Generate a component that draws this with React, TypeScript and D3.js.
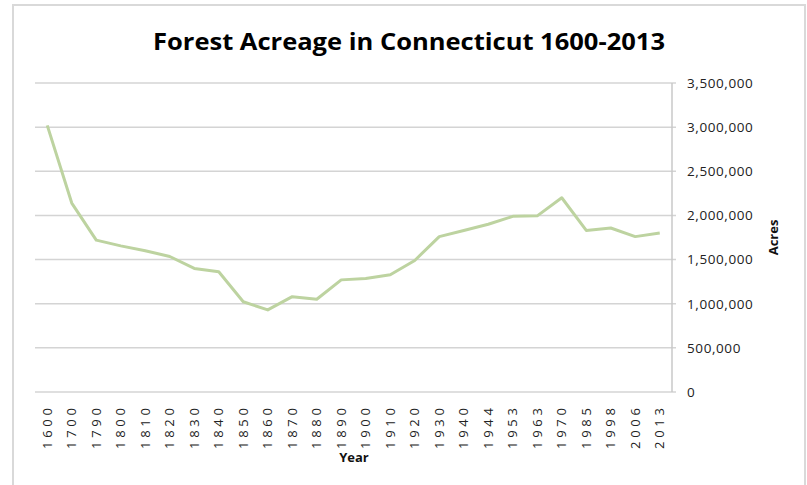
import React from "react";
import * as d3 from "d3";

const years = ["1600","1700","1790","1800","1810","1820","1830","1840","1850","1860","1870","1880","1890","1900","1910","1920","1930","1940","1944","1953","1963","1970","1985","1998","2006","2013"];
const acres = [3020000,2140000,1720000,1655000,1600000,1535000,1400000,1362000,1022000,930000,1080000,1050000,1270000,1285000,1328000,1490000,1760000,1830000,1900000,1990000,1995000,2200000,1830000,1858000,1760000,1800000];
const yTicks = [0,500000,1000000,1500000,2000000,2500000,3000000,3500000];
const title = "Forest Acreage in Connecticut 1600-2013";

export default function App() {
  const W = 807, H = 485;
  const left = 35, right = 672, top = 83, bottom = 392;
  const x = d3.scalePoint<string>().domain(years).range([left, right]).padding(0.5);
  const y = d3.scaleLinear().domain([0, 3500000]).range([bottom, top]);
  const line = d3.line<number>().x((_, i) => x(years[i]) as number).y(d => y(d));
  const fmt = d3.format(",");
  const font = "'Open Sans', 'DejaVu Sans', sans-serif";
  return (
    <svg width={W} height={H} style={{ position: "absolute", left: 0, top: 0, background: "#fff" }}>
      <rect x={13} y={5} width={792} height={500} fill="#fff" stroke="#d9d9d9" strokeWidth={2} />
      <text x={409} y={50} textAnchor="middle" fontFamily={font} fontWeight="bold" fontSize={23}
        textLength={512} lengthAdjust="spacingAndGlyphs" fill="#000">{title}</text>
      {yTicks.map(t => (
        <g key={t}>
          <line x1={left} x2={right + 4} y1={y(t)} y2={y(t)} stroke="#d4d4d4" strokeWidth={1.5} />
          <text x={687} y={y(t)} dy="0.36em" fontFamily={font} fontSize={13.5} letterSpacing={0.6} fill="#222">{fmt(t)}</text>
        </g>
      ))}
      <line x1={right} x2={right} y1={top} y2={bottom} stroke="#c8c8c8" strokeWidth={1.5} />
      <path d={line(acres) || ""} fill="none" stroke="#bdd3a0" strokeWidth={3} strokeLinejoin="round" />
      {years.map(yr => {
        const cx = (x(yr) as number) + 4.5;
        return (
          <text key={yr} transform={`translate(${cx},408) rotate(-90)`} textAnchor="end" fontFamily={font}
            fontSize={13} textLength={41} lengthAdjust="spacing" fill="#222">{yr}</text>
        );
      })}
      <text x={354} y={462} textAnchor="middle" fontFamily={font} fontWeight="bold" fontSize={13} fill="#111">Year</text>
      <text transform={`translate(778,${(top + bottom) / 2}) rotate(-90)`} textAnchor="middle" fontFamily={font}
        fontWeight="bold" fontSize={13} fill="#111">Acres</text>
    </svg>
  );
}
